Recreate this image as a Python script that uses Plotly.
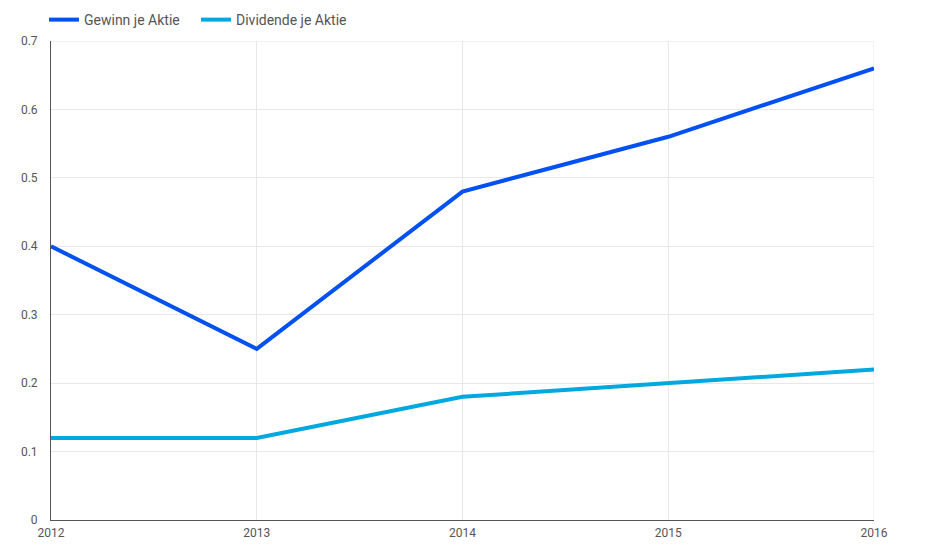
import plotly.graph_objects as go

years = ["2012", "2013", "2014", "2015", "2016"]
gewinn = [0.40, 0.25, 0.48, 0.56, 0.66]
dividende = [0.12, 0.12, 0.18, 0.20, 0.22]
y_ticks = [0, 0.1, 0.2, 0.3, 0.4, 0.5, 0.6, 0.7]
y_labels = ["0", "0.1", "0.2", "0.3", "0.4", "0.5", "0.6", "0.7"]

x_num = [int(y) for y in years]

fig = go.Figure()
fig.add_trace(go.Scatter(x=x_num, y=gewinn, mode="lines", name="Gewinn je Aktie",
                         line=dict(color="#0050F2", width=4)))
fig.add_trace(go.Scatter(x=x_num, y=dividende, mode="lines", name="Dividende je Aktie",
                         line=dict(color="#00A8E0", width=4)))

fig.update_layout(
    width=929, height=554,
    margin=dict(l=43, r=63, t=33, b=42, autoexpand=False),
    paper_bgcolor="white", plot_bgcolor="white",
    font=dict(family="Roboto", size=12, color="#555555"),
    showlegend=True,
    legend=dict(orientation="h", x=-0.0085, xref="paper", y=1.0772, yref="paper",
                xanchor="left", yanchor="top",
                font=dict(family="Roboto", size=14, color="#555555"),
                itemwidth=30, entrywidth=107, entrywidthmode="pixels",
                bgcolor="rgba(0,0,0,0)"),
    xaxis=dict(range=[2012, 2016], tickmode="array", tickvals=x_num, ticktext=years,
               showgrid=True, gridcolor="#e8e8e8", gridwidth=1, automargin=False,
               showline=True, linecolor="#555555", linewidth=1,
               zeroline=False, ticks="", ticklabelstandoff=2,
               tickfont=dict(size=12, color="#555555")),
    yaxis=dict(range=[0, 0.7], tickmode="array", tickvals=y_ticks, ticktext=y_labels,
               showgrid=True, gridcolor="#e8e8e8", gridwidth=1, automargin=False,
               showline=True, linecolor="#555555", linewidth=1,
               zeroline=False, ticks="", ticklabelstandoff=10,
               tickfont=dict(size=12, color="#555555")),
)
fig.add_shape(type="line", xref="x", yref="paper", x0=2016, x1=2016, y0=0, y1=1,
              line=dict(color="#e8e8e8", width=1), layer="below")
fig.add_shape(type="line", xref="paper", yref="y", x0=0, x1=1, y0=0.7, y1=0.7,
              line=dict(color="#e8e8e8", width=1), layer="below")

fig.write_html("out.html")
